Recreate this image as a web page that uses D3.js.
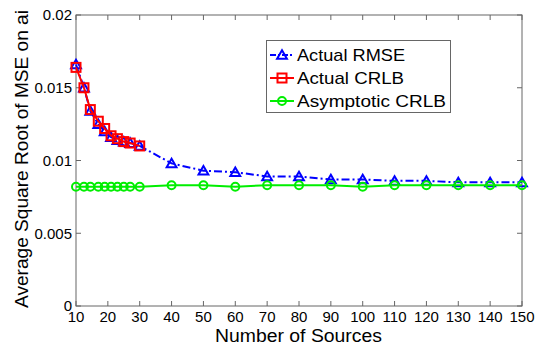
<!DOCTYPE html>
<html><head><meta charset="utf-8">
<script src="https://cdn.jsdelivr.net/npm/d3@7"></script>
<style>body{margin:0;background:#fff}svg{display:block}text{font-family:"Liberation Sans",Arial,sans-serif;fill:#000}</style>
</head><body><svg id="c" width="547" height="350"></svg>
<script>
const sources = [10,12.5,14.5,17,19,21,23,25,27,30,40,50,60,70,80,90,100,110,120,130,140,150];
const rmseX = sources;
const rmse = [0.0166,0.0150,0.0134,0.0125,0.0120,0.0116,0.0114,0.0113,0.0112,0.0110,0.0098,0.0093,0.0092,0.0089,0.0089,0.0087,0.0087,0.0086,0.0086,0.0085,0.0085,0.0085];
const crlbX = [10,12.5,14.5,17,19,21,23,25,27,30];
const crlb = [0.0164,0.0150,0.0135,0.0127,0.0122,0.0117,0.0115,0.0113,0.0112,0.0110];
const asymX = [10,12.5,14.5,17,19,21,23,25,27,30,40,50,60,70,80,90,100,110,120,130,140,150];
const asym = [0.0082,0.0082,0.0082,0.0082,0.0082,0.0082,0.0082,0.0082,0.0082,0.0082,0.0083,0.0083,0.0082,0.0083,0.0083,0.0083,0.0082,0.0083,0.0083,0.0083,0.0083,0.0083];
const xTicks = [10,20,30,40,50,60,70,80,90,100,110,120,130,140,150];
const yTicks = [0,0.005,0.01,0.015,0.02];
const yTickLabels = ["0","0.005","0.01","0.015","0.02"];
const legendLabels = ["Actual RMSE","Actual CRLB","Asymptotic CRLB"];

const svg = d3.select("#c");
const L=76,R=522,T=15,B=306;
const x = d3.scaleLinear().domain([10,150]).range([L,R]);
const y = d3.scaleLinear().domain([0,0.02]).range([B,T]);
const axisCol="#666";

// ticks
const g = svg.append("g");
xTicks.forEach(t=>{
  g.append("line").attr("x1",x(t)).attr("x2",x(t)).attr("y1",B).attr("y2",B-5).attr("stroke",axisCol);
  g.append("line").attr("x1",x(t)).attr("x2",x(t)).attr("y1",T).attr("y2",T+5).attr("stroke",axisCol);
  g.append("text").attr("x",x(t)).attr("y",322).attr("text-anchor","middle").attr("font-size",15).text(t);
});
yTicks.forEach((t,i)=>{
  g.append("line").attr("x1",L).attr("x2",L+5).attr("y1",y(t)).attr("y2",y(t)).attr("stroke",axisCol);
  g.append("line").attr("x1",R).attr("x2",R-5).attr("y1",y(t)).attr("y2",y(t)).attr("stroke",axisCol);
  g.append("text").attr("x",72).attr("y",y(t)).attr("dy","0.36em").attr("text-anchor","end").attr("font-size",15).text(yTickLabels[i]);
});
g.append("rect").attr("x",L).attr("y",T).attr("width",R-L).attr("height",B-T).attr("fill","none").attr("stroke",axisCol);

svg.append("text").attr("x",215).attr("y",341.5).attr("font-size",17.5)
  .attr("textLength",167).attr("lengthAdjust","spacingAndGlyphs").text("Number of Sources");
svg.append("text").attr("transform","translate(28,308) rotate(-90)").attr("font-size",17.5)
  .attr("textLength",298).attr("lengthAdjust","spacingAndGlyphs").text("Average Square Root of MSE on ai");

const line = d3.line().x(d=>x(d[0])).y(d=>y(d[1]));
const tri = d3.symbol().type(d3.symbolTriangle).size(42);
const circ = d3.symbol().type(d3.symbolCircle).size(50);

function series(xs, ys, color, dash, marker){
  const data = xs.map((v,i)=>[v,ys[i]]);
  svg.append("path").datum(data).attr("d",line).attr("fill","none").attr("stroke",color).attr("stroke-width",2).attr("stroke-dasharray",dash);
  const m = svg.append("g");
  data.forEach(d=>drawMarker(m,x(d[0]),y(d[1]),color,marker));
}
function drawMarker(m,cx,cy,color,marker){
  if(marker==="tri") m.append("path").attr("d",tri()).attr("transform",`translate(${cx},${cy+1})`).attr("fill","none").attr("stroke",color).attr("stroke-width",2);
  else if(marker==="sq") m.append("rect").attr("x",cx-4.5).attr("y",cy-4.5).attr("width",9).attr("height",9).attr("fill","none").attr("stroke",color).attr("stroke-width",2);
  else m.append("path").attr("d",circ()).attr("transform",`translate(${cx},${cy})`).attr("fill","none").attr("stroke",color).attr("stroke-width",2);
}
series(rmseX, rmse, "#0000ff", "8,3,2,3", "tri");
series(crlbX, crlb, "#ff0000", null, "sq");
series(asymX, asym, "#00ee00", null, "circ");

// legend
const lg = svg.append("g");
lg.append("rect").attr("x",266.5).attr("y",40.5).attr("width",184).attr("height",72).attr("fill","#fff").attr("stroke",axisCol);
const lc = [["#0000ff","6,2,2,2","tri"],["#ff0000",null,"sq"],["#00ee00",null,"circ"]];
const ly = [55,78,101];
const lw = [108,107,149];
legendLabels.forEach((lab,i)=>{
  lg.append("line").attr("x1",270).attr("x2",294).attr("y1",ly[i]).attr("y2",ly[i]).attr("stroke",lc[i][0]).attr("stroke-width",2).attr("stroke-dasharray",lc[i][1]);
  drawMarker(lg,282,ly[i],lc[i][0],lc[i][2]);
  lg.append("text").attr("x",297).attr("y",ly[i]).attr("dy","0.36em").attr("font-size",17)
    .attr("textLength",lw[i]).attr("lengthAdjust","spacingAndGlyphs").text(lab);
});
</script></body></html>
